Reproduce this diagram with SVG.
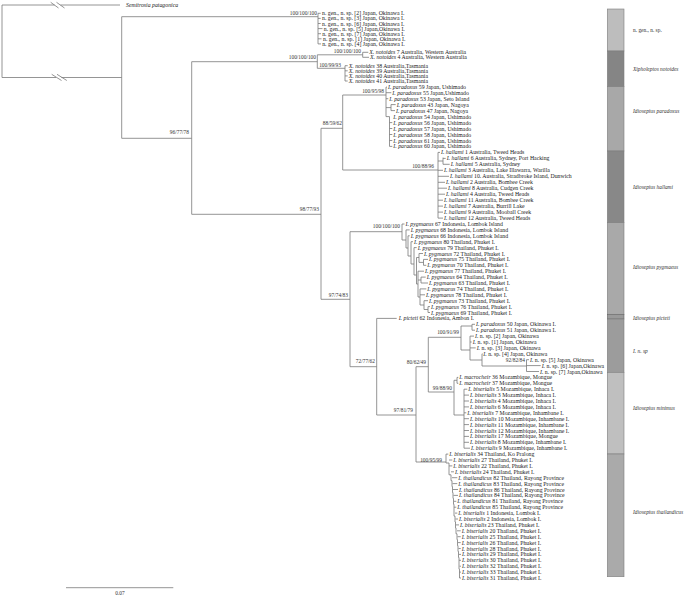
<svg xmlns="http://www.w3.org/2000/svg" width="685" height="596" viewBox="0 0 685 596">
<style>
.b{fill:none;stroke:#7a7a7a;stroke-width:0.8}
.t{font-family:"Liberation Serif",serif;font-size:5.8px;fill:#222}
.s{font-family:"Liberation Serif",serif;font-size:5.4px;fill:#333}
.i{font-style:italic}
.sb{font-family:"Liberation Serif",serif;font-size:5.4px;fill:#333;font-style:italic}
</style>
<rect width="685" height="596" fill="#fff"/>
<g id="branches" class="b">
<path d="M2,5V77.5M2,5H54.6M60.5,5H120M50.7,2.3L58.5,8M56.5,2.3L64.5,8M2,77.5H56M61.4,77.5H121.7M51.7,74.3L61.5,80.5M57,74.3L66.8,80.5"/>
<path d="M121.7,16.7V138.3M121.7,16.7H318M121.7,138.3H191.7"/>
<path d="M318,13.3V43.9M318,13.3H320.7M318,18.4H320.7M318,23.5H320.7M318,28.6H322.5M318,33.7H321M318,38.8H321.5M318,43.9H321"/>
<path d="M191.7,61.7V214.3M191.7,61.7H317.3M191.7,214.3H321"/>
<path d="M317.3,54.8V68.3M317.3,54.8H362.7M362.7,52.3V57.3M362.7,52.3H368.3M362.7,57.3H369M317.3,68.3H345M345,65.7V81M345,65.7H347.7M345,70.8H347.7M345,75.9H347.7M345,81H347.7"/>
<path d="M321,128.3V299.3M321,128.3H342.7M321,299.3H350"/>
<path d="M342.7,95V170M342.7,95H386M342.7,170H438"/>
<path d="M386,87.1V116.6H389.5V146.4M386,87.1H387M386,92.7H391.3M386,98.7H388.3M386,107.6H391M391,104.6V110.6M391,104.6H395.7M391,110.6H395M389.5,122.6H392.3M389.5,128.5H392.3M389.5,134.5H392.3M389.5,140.5H392.3M389.5,146.4H392.3"/>
<path d="M438,152.4V218.1M438,152.4H440M443,157.6V164.3M438,161H443M443,158.4H445.7M443,164.3H449.7M438,170.3H443M438,176.3H449M438,182.3H445M438,188.2H447M438,194.2H445M438,200.2H443M438,206.1H443M438,212.1H443M438,218.1H443"/>
<path d="M350,231.7V366.7M350,231.7H402M350,366.7H376.7"/>
<path d="M402,224V240M402,224H404.5M402,240H406M406,229.9V248M406,229.9H409.7M406,248H408M408,235.8V256M408,235.8H409.7M408,256H411M411,241.7V264M411,241.7H413M411,264H414M414,247.6V275M414,247.6H416.7M414,275H416.5M416.5,257.5V284M416.5,257.5H419M419,253.5V262.4M419,253.5H423M419,262.4H423.5M423.5,259.4V265.3M423.5,259.4H428M423.5,265.3H426.3M416.5,284H418M418,271.2V297M418,271.2H424M418,280H421M421,277.1V283M421,277.1H425.7M421,283H428M418,297H420M420,288.9V305M420,288.9H426.3M420,294.8H425M420,305H424M424,300.7V309.5M424,300.7H428M424,309.5H428M428,306.6V312.5M428,306.6H430M428,312.5H430"/>
<path d="M376.7,318.4V415M376.7,318.4H396.7M376.7,415H416"/>
<path d="M416,366.7V462M416,366.7H428.3M416,462H446"/>
<path d="M428.3,337.3V392M428.3,337.3H461M428.3,392H454"/>
<path d="M461,326V350M461,326H472M472,324.3V330.2M472,324.3H475M472,330.2H475M461,350H470M470,336.1V360M470,336.1H474M470,342H471.7M470,347.9H475.7M470,360H482M482,353.8V366M482,353.8H482.5M482,366H526.5M526.5,359.7V371.5M526.5,359.7H529M526.5,365.6H540.7M526.5,371.5H539"/>
<path d="M454,380.3V415M454,380.3H457M457,377.4V383.3M457,377.4H458.3M457,383.3H458.3M454,415H464M464,389.2V448.2M464,389.2H467.3M464,395.1H469M464,401H469M464,406.9H469M464,412.8H466.3M464,418.7H469M464,424.6H469M464,430.5H469M464,436.4H469M464,442.3H469M464,448.2H470"/>
<path d="M446,454.1V463H449V474.8H451V480.7H452V486.6H452.5V492.5H453V498.4H453.5V504.3H454V516.1H455V522H455.5V527.9H456V533.8H457V539.7H457.5V545.6H458V551.5H458.5V557.4H459V569.2H459.5V578"/>
<path d="M446,454.1H448.3M449,460H452.3M449,465.9H452.3M451,471.8H454M452,477.7H457.3M452.5,483.6H457.3M453,489.5H458M453.5,495.4H458M454,501.3H456.3M454,507.2H456.3M455,513.1H457.3M455.5,519H458M456,524.9H459M457,530.8H460.7M457.5,536.7H460.7M458,542.6H460.7M458.5,548.5H460.7M459,554.4H461M459,560.3H461M459.5,566.2H461M459.5,572.1H461M459.5,578H461"/>
<path d="M66,587.7H173.3"/>
</g>
<g id="supports" class="s" text-anchor="end">
<text x="317" y="14.8">100/100/100</text>
<text x="316" y="59.4">100/100/100</text>
<text x="361" y="53.2">100/100/100</text>
<text x="341" y="67">100/99/93</text>
<text x="189" y="134.3">96/77/78</text>
<text x="319" y="210.8">98/77/93</text>
<text x="342" y="125.3">88/59/62</text>
<text x="384" y="92.8">100/95/98</text>
<text x="434" y="167.8">100/88/96</text>
<text x="348" y="296.8">97/74/83</text>
<text x="400" y="228">100/100/100</text>
<text x="375" y="362.8">72/77/62</text>
<text x="413" y="412">97/81/79</text>
<text x="426" y="363.7">80/62/49</text>
<text x="459" y="334">100/91/99</text>
<text x="452" y="390.2">99/88/90</text>
<text x="525" y="362">92/82/84</text>
<text x="442" y="461.5">100/95/99</text>
</g>
<g id="outgroup"><text class="t i" x="126" y="7">Semitrosia patagonica</text></g>
<g id="tips" class="t">
<g id="ngen"><text x="322" y="15.3">n. gen., n. sp. [2] Japan, Okinawa I.</text><text x="322" y="20.4">n. gen., n. sp. [3] Japan, Okinawa I.</text><text x="322" y="25.5">n. gen., n. sp. [6] Japan, Okinawa I.</text><text x="323.8" y="30.6">n. gen., n. sp. [5] Japan,Okinawa I.</text><text x="322.2" y="35.7">n. gen., n. sp. [7] Japan, Okinawa I.</text><text x="323" y="40.8">n. gen., n. sp. [1] Japan, Okinawa I.</text><text x="322.2" y="45.9">n. gen., n. sp. [4] Japan, Okinawa I.</text></g>
<g id="xnot"><text x="369.3" y="54.3"><tspan class="i">X. notoides</tspan> 7 Australia, Western Australia</text><text x="370" y="59.3"><tspan class="i">X. notoides</tspan> 4 Australia, Western Australia</text><text x="348.7" y="67.7"><tspan class="i">X. notoides</tspan> 38 Australia,Tasmania</text><text x="348.7" y="72.8"><tspan class="i">X. notoides</tspan> 39 Australia,Tasmania</text><text x="348.7" y="77.9"><tspan class="i">X. notoides</tspan> 40 Australia,Tasmania</text><text x="348.7" y="83"><tspan class="i">X. notoides</tspan> 41 Australia,Tasmania</text></g>
<g id="parj"><text x="388" y="89.1"><tspan class="i">I. paradoxus</tspan> 59 Japan, Ushimado</text><text x="392.3" y="94.7"><tspan class="i">I. paradoxus</tspan> 55 Japan,Ushimado</text><text x="389.3" y="100.7"><tspan class="i">I. paradoxus</tspan> 53 Japan, Seto Island</text><text x="396.7" y="106.6"><tspan class="i">I. paradoxus</tspan> 43 Japan, Nagoya</text><text x="396" y="112.6"><tspan class="i">I. paradoxus</tspan> 47 Japan, Nagoya</text><text x="393.3" y="118.6"><tspan class="i">I. paradoxus</tspan> 54 Japan, Ushimado</text><text x="393.3" y="124.6"><tspan class="i">I. paradoxus</tspan> 56 Japan, Ushimado</text><text x="393.3" y="130.5"><tspan class="i">I. paradoxus</tspan> 57 Japan, Ushimado</text><text x="393.3" y="136.5"><tspan class="i">I. paradoxus</tspan> 58 Japan, Ushimado</text><text x="393.3" y="142.5"><tspan class="i">I. paradoxus</tspan> 61 Japan, Ushimado</text><text x="393.3" y="148.4"><tspan class="i">I. paradoxus</tspan> 60 Japan, Ushimado</text></g>
<g id="hal"><text x="441" y="154.4"><tspan class="i">I. hallami</tspan> 1 Australia, Tweed Heads</text><text x="446.7" y="160.4"><tspan class="i">I. hallami</tspan> 6 Australia, Sydney, Port Hacking</text><text x="450.7" y="166.3"><tspan class="i">I. hallami</tspan> 5 Australia, Sydney</text><text x="444" y="172.3"><tspan class="i">I. hallami</tspan> 3 Australia, Lake Illawarra, Warilla</text><text x="450" y="178.3"><tspan class="i">I. hallami</tspan> 10. Australia, Stradbroke Island, Dunwich</text><text x="446" y="184.3"><tspan class="i">I. hallami</tspan> 2 Australia, Bombee Creek</text><text x="448" y="190.2"><tspan class="i">I. hallami</tspan> 8 Australia, Cudgen Creek</text><text x="446" y="196.2"><tspan class="i">I. hallami</tspan> 4 Australia, Tweed Heads</text><text x="444" y="202.2"><tspan class="i">I. hallami</tspan> 11 Australia, Bombee Creek</text><text x="444" y="208.1"><tspan class="i">I. hallami</tspan> 7 Australia, Burrill Lake</text><text x="444" y="214.1"><tspan class="i">I. hallami</tspan> 9 Australia, Mooball Creek</text><text x="444" y="220.1"><tspan class="i">I. hallami</tspan> 12 Australia, Tweed Heads</text></g>
<g id="pyg"><text x="405.5" y="226"><tspan class="i">I. pygmaeus</tspan> 67 Indonesia, Lombok Island</text><text x="410.7" y="231.9"><tspan class="i">I. pygmaeus</tspan> 68 Indonesia, Lombok Island</text><text x="410.7" y="237.8"><tspan class="i">I. pygmaeus</tspan> 66 Indonesia, Lombok Island</text><text x="414" y="243.7"><tspan class="i">I. pygmaeus</tspan> 80 Thailand, Phuket I.</text><text x="417.7" y="249.6"><tspan class="i">I. pygmaeus</tspan> 79 Thailand, Phuket I.</text><text x="424" y="255.5"><tspan class="i">I. pygmaeus</tspan> 72 Thailand, Phuket I.</text><text x="429" y="261.4"><tspan class="i">I. pygmaeus</tspan> 75 Thailand, Phuket I.</text><text x="427.3" y="267.3"><tspan class="i">I. pygmaeus</tspan> 70 Thailand, Phuket I.</text><text x="425" y="273.2"><tspan class="i">I. pygmaeus</tspan> 77 Thailand, Phuket I.</text><text x="426.7" y="279.1"><tspan class="i">I. pygmaeus</tspan> 64 Thailand, Phuket I.</text><text x="429" y="285"><tspan class="i">I. pygmaeus</tspan> 63 Thailand, Phuket I.</text><text x="427.3" y="290.9"><tspan class="i">I. pygmaeus</tspan> 74 Thailand, Phuket I.</text><text x="426" y="296.8"><tspan class="i">I. pygmaeus</tspan> 78 Thailand, Phuket I.</text><text x="429" y="302.7"><tspan class="i">I. pygmaeus</tspan> 73 Thailand, Phuket I.</text><text x="431" y="308.6"><tspan class="i">I. pygmaeus</tspan> 76 Thailand, Phuket I.</text><text x="431" y="314.5"><tspan class="i">I. pygmaeus</tspan> 69 Thailand, Phuket I.</text></g>
<g id="pic"><text x="398.7" y="320.4"><tspan class="i">I. picteti</tspan> 62 Indonesia, Ambon I.</text></g>
<g id="paro"><text x="476" y="326.3"><tspan class="i">I. paradoxus</tspan> 50 Japan, Okinawa I.</text><text x="476" y="332.2"><tspan class="i">I. paradoxus</tspan> 51 Japan, Okinawa I.</text></g>
<g id="nsp"><text x="475" y="338.1"><tspan class="i">I.</tspan> n. sp. [2] Japan, Okinawa</text><text x="472.7" y="344"><tspan class="i">I.</tspan> n. sp. [1] Japan, Okinawa</text><text x="476.7" y="349.9"><tspan class="i">I.</tspan> n. sp. [3] Japan, Okinawa</text><text x="483.3" y="355.8"><tspan class="i">I.</tspan> n. sp. [4] Japan, Okinawa</text><text x="530" y="361.7"><tspan class="i">I.</tspan> n. sp. [5] Japan, Okinawa</text><text x="541.7" y="367.6"><tspan class="i">I.</tspan> n. sp. [6] Japan,Okinawa</text><text x="540" y="373.5"><tspan class="i">I.</tspan> n. sp. [7] Japan,Okinawa</text></g>
<g id="min"><text x="459.3" y="379.4"><tspan class="i">I. macrocheir</tspan> 36 Mozambique, Mongue</text><text x="459.3" y="385.3"><tspan class="i">I. macrocheir</tspan> 37 Mozambique, Mongue</text><text x="468.3" y="391.2"><tspan class="i">I. biserialis</tspan> 5 Mozambique, Inhaca I.</text><text x="470" y="397.1"><tspan class="i">I. biserialis</tspan> 3 Mozambique, Inhaca I.</text><text x="470" y="403"><tspan class="i">I. biserialis</tspan> 4 Mozambique, Inhaca I.</text><text x="470" y="408.9"><tspan class="i">I. biserialis</tspan> 6 Mozambique, Inhaca I.</text><text x="467.3" y="414.8"><tspan class="i">I. biserialis</tspan> 7 Mozambique, Inhambane I.</text><text x="470" y="420.7"><tspan class="i">I. biserialis</tspan> 10 Mozambique, Inhambane I.</text><text x="470" y="426.6"><tspan class="i">I. biserialis</tspan> 11 Mozambique, Inhambane I.</text><text x="470" y="432.5"><tspan class="i">I. biserialis</tspan> 12 Mozambique, Inhambane I.</text><text x="470" y="438.4"><tspan class="i">I. biserialis</tspan> 17 Mozambique, Mongue</text><text x="470" y="444.3"><tspan class="i">I. biserialis</tspan> 8 Mozambique, Inhambane I.</text><text x="471" y="450.2"><tspan class="i">I. biserialis</tspan> 9 Mozambique, Inhambane I.</text></g>
<g id="thai"><text x="449.3" y="456.1"><tspan class="i">I. biserialis</tspan> 34 Thailand, Ko Pralong</text><text x="453.3" y="462"><tspan class="i">I. biserialis</tspan> 27 Thailand, Phuket I.</text><text x="453.3" y="467.9"><tspan class="i">I. biserialis</tspan> 22 Thailand, Phuket I.</text><text x="455" y="473.8"><tspan class="i">I. biserialis</tspan> 24 Thailand, Phuket I.</text><text x="458.3" y="479.7"><tspan class="i">I. thailandicus</tspan> 82 Thailand, Rayong Province</text><text x="458.3" y="485.6"><tspan class="i">I. thailandicus</tspan> 83 Thailand, Rayong Province</text><text x="459" y="491.5"><tspan class="i">I. thailandicus</tspan> 86 Thailand, Rayong Province</text><text x="459" y="497.4"><tspan class="i">I. thailandicus</tspan> 84 Thailand, Rayong Province</text><text x="457.3" y="503.3"><tspan class="i">I. thailandicus</tspan> 81 Thailand, Rayong Province</text><text x="457.3" y="509.2"><tspan class="i">I. thailandicus</tspan> 85 Thailand, Rayong Province</text><text x="458.3" y="515.1"><tspan class="i">I. biserialis</tspan> 1 Indonesia, Lombok I.</text><text x="459" y="521"><tspan class="i">I. biserialis</tspan> 2 Indonesia, Lombok I.</text><text x="460" y="526.9"><tspan class="i">I. biserialis</tspan> 23 Thailand, Phuket I.</text><text x="461.7" y="532.8"><tspan class="i">I. biserialis</tspan> 20 Thailand, Phuket I.</text><text x="461.7" y="538.7"><tspan class="i">I. biserialis</tspan> 25 Thailand, Phuket I.</text><text x="461.7" y="544.6"><tspan class="i">I. biserialis</tspan> 26 Thailand, Phuket I.</text><text x="461.7" y="550.5"><tspan class="i">I. biserialis</tspan> 28 Thailand, Phuket I.</text><text x="462" y="556.4"><tspan class="i">I. biserialis</tspan> 29 Thailand, Phuket I.</text><text x="462" y="562.3"><tspan class="i">I. biserialis</tspan> 30 Thailand, Phuket I.</text><text x="462" y="568.2"><tspan class="i">I. biserialis</tspan> 32 Thailand, Phuket I.</text><text x="462" y="574.1"><tspan class="i">I. biserialis</tspan> 33 Thailand, Phuket I.</text><text x="462" y="580"><tspan class="i">I. biserialis</tspan> 31 Thailand, Phuket I.</text></g>
</g>
<g id="sidebar" stroke="#7e7e7e" stroke-width="0.6">
<rect id="bar-ngen" x="607.3" y="9" width="16.7" height="42" fill="#bdbdbd"/>
<rect id="bar-xnot" x="607.3" y="51" width="16.7" height="35.7" fill="#858585"/>
<rect id="bar-par" x="607.3" y="86.7" width="16.7" height="64.3" fill="#a8a8a8"/>
<rect id="bar-hal" x="607.3" y="151" width="16.7" height="71.7" fill="#888888"/>
<rect id="bar-pyg" x="607.3" y="222.7" width="16.7" height="91.6" fill="#a9a9a9"/>
<rect id="bar-pic" x="607.3" y="314.3" width="16.7" height="4.7" fill="#9a9a9a" stroke="#666"/>
<rect id="bar-nsp" x="607.3" y="319" width="16.7" height="53.3" fill="#9c9c9c"/>
<rect id="bar-min" x="607.3" y="372.3" width="16.7" height="81.7" fill="#bfbfbf"/>
<rect id="bar-thai" x="607.3" y="454" width="16.7" height="122.7" fill="#aaaaaa"/>
</g>
<g id="sidebar-labels">
<text class="s" x="633" y="31.8">n. gen., n. sp.</text>
<text class="sb" x="633" y="70.8">Xipholeptos notoides</text>
<text class="sb" x="633" y="112.8">Idiosepius paradoxus</text>
<text class="sb" x="633" y="189">Idiosepius hallami</text>
<text class="sb" x="633" y="269">Idiosepius pygmaeus</text>
<text class="sb" x="633" y="319.5">Idiosepius picteti</text>
<text class="sb" x="633" y="352.8">I. n. sp</text>
<text class="sb" x="633" y="410">Idiosepius minimus</text>
<text class="sb" x="633" y="514">Idiosepius thailandicus</text>
</g>
<g id="scale"><text class="s" x="120" y="594.5" text-anchor="middle">0.07</text></g>
</svg>
